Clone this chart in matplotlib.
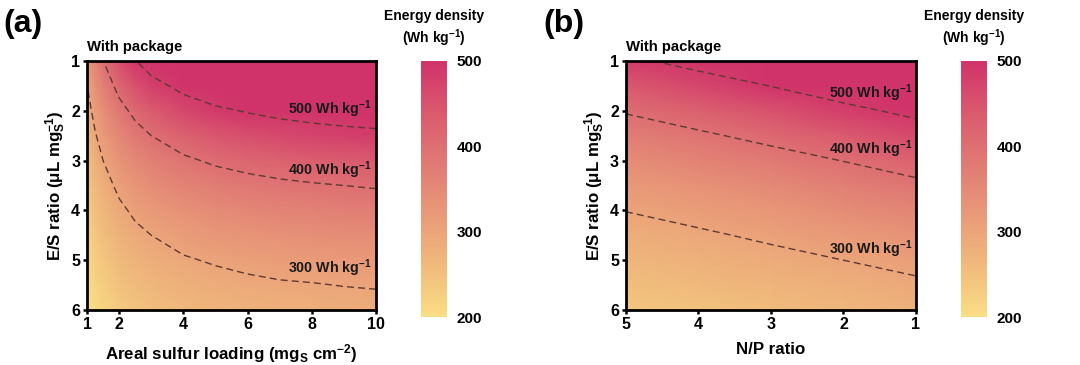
import matplotlib.pyplot as plt
import numpy as np
from matplotlib.colors import LinearSegmentedColormap, Normalize
from matplotlib.cm import ScalarMappable

plt.rcParams['font.family'] = ['Liberation Sans', 'DejaVu Sans']
plt.rcParams['font.weight'] = 'bold'
plt.rcParams['mathtext.fontset'] = 'custom'
plt.rcParams['mathtext.rm'] = 'Liberation Sans:bold'
plt.rcParams['mathtext.it'] = 'Liberation Sans:bold'
plt.rcParams['mathtext.bf'] = 'Liberation Sans:bold'

# grid nodes
es_ratio = [1.0, 1.5, 2.0, 2.5, 3.0, 3.5, 4.0, 4.5, 5.0, 5.5, 6.0]   # uL mgS-1
loading = [1, 1.25, 1.5, 2, 2.5, 3, 4, 5, 6, 7, 8, 9, 10]            # mgS cm-2
np_ratio = [1, 2, 3, 4, 5]

# (a) energy density (Wh/kg), rows = E/S ratio, cols = sulfur loading
energy_a = np.array([
    [319, 362, 399, 455, 498, 531, 579, 613, 637, 656, 671, 683, 692],
    [299, 337, 368, 416, 452, 479, 517, 544, 563, 578, 589, 598, 606],
    [282, 315, 342, 383, 413, 436, 467, 489, 504, 516, 525, 532, 538],
    [266, 296, 320, 355, 381, 400, 426, 444, 457, 466, 474, 480, 485],
    [252, 279, 300, 331, 353, 369, 392, 407, 417, 425, 431, 436, 440],
    [240, 264, 282, 310, 329, 343, 362, 375, 384, 391, 396, 400, 404],
    [229, 250, 267, 291, 308, 320, 337, 348, 356, 362, 366, 370, 373],
    [218, 238, 253, 275, 290, 300, 315, 325, 332, 337, 340, 344, 346],
    [209, 227, 240, 260, 273, 283, 296, 304, 310, 315, 318, 321, 323],
    [200, 217, 229, 247, 259, 267, 279, 286, 292, 296, 298, 301, 303],
    [192, 207, 219, 235, 245, 253, 264, 270, 275, 279, 281, 283, 285]])

# (b) energy density (Wh/kg), rows = E/S ratio, cols = N/P ratio
energy_b = np.array([
    [660, 606, 560, 521, 487],
    [580, 537, 501, 469, 441],
    [516, 483, 453, 427, 404],
    [466, 438, 414, 392, 372],
    [424, 401, 380, 362, 345],
    [389, 370, 352, 336, 322],
    [360, 343, 328, 314, 301],
    [334, 320, 307, 294, 283],
    [312, 300, 288, 277, 267],
    [293, 282, 272, 262, 253],
    [276, 266, 257, 248, 240]])

levels = [300, 400, 500]
level_labels = ['300 Wh kg$^{-1}$', '400 Wh kg$^{-1}$', '500 Wh kg$^{-1}$']
label_y_a = [5.16, 3.19, 1.96]
label_y_b = [4.78, 2.77, 1.64]

cmap = LinearSegmentedColormap.from_list(
    'ed', ['#FADE84', '#F0BA7C', '#E99A78', '#E07A74', '#DA5A6E', '#D0336A'])
norm = Normalize(200, 500)

fig = plt.figure(figsize=(10.8, 3.65), dpi=100)

panels = [
    dict(pos=[0.0806, 0.1507, 0.2676, 0.6822], cpos=[0.3898, 0.1315, 0.0241, 0.7014],
         x=loading, z=energy_a, xlim=(1, 10), xticks=[1, 2, 4, 6, 8, 10],
         xlabel='Areal sulfur loading (mg$_{\\rm S}$ cm$^{-2}$)', lab_x=9.85, lab_y=label_y_a,
         tag='(a)', tag_x=0.0),
    dict(pos=[0.5796, 0.1507, 0.2685, 0.6822], cpos=[0.8898, 0.1315, 0.0241, 0.7014],
         x=np_ratio, z=energy_b, xlim=(5, 1), xticks=[5, 4, 3, 2, 1],
         xlabel='N/P ratio', lab_x=1.05, lab_y=label_y_b,
         tag='(b)', tag_x=0.5),
]

for p in panels:
    ax = fig.add_axes(p['pos'])
    X, Y = np.meshgrid(p['x'], es_ratio)
    ax.pcolormesh(X, Y, np.clip(p['z'], 200, 500), cmap=cmap, norm=norm, shading='gouraud')
    ax.contour(X, Y, p['z'], levels=levels, colors='#5e3a33', linewidths=1.0,
               linestyles=[(0, (5, 3))])
    for lv, ly in zip(level_labels, p['lab_y']):
        ax.text(p['lab_x'], ly, lv, ha='right', va='center', fontsize=10.3,
                fontweight='bold', color='#1a1a1a')
    ax.set_xlim(*p['xlim'])
    ax.set_ylim(6, 1)
    ax.set_xticks(p['xticks'])
    ax.set_yticks([1, 2, 3, 4, 5, 6])
    for s in ax.spines.values():
        s.set_linewidth(2)
    ax.tick_params(direction='out', width=1.8, length=3, labelsize=11.5, pad=2)
    ax.set_xlabel(p['xlabel'], fontsize=12.2, fontweight='bold', labelpad=7)
    ax.set_ylabel('E/S ratio (μL mg$_{\\rm S}^{-1}$)', fontsize=12.2, fontweight='bold', labelpad=2)
    ax.text(0.0, 1.03, 'With package', transform=ax.transAxes, ha='left', va='bottom',
            fontsize=10.7, fontweight='bold')
    fig.text(p['tag_x'] + 0.003, 0.935, p['tag'], fontsize=23, fontweight='bold',
             ha='left', va='center')

    cax = fig.add_axes(p['cpos'])
    cb = fig.colorbar(ScalarMappable(norm=norm, cmap=cmap), cax=cax)
    cb.outline.set_visible(False)
    cb.set_ticks([200, 300, 400, 500])
    cax.tick_params(length=0, labelsize=11, pad=7)
    cax.text(0.5, 1.045, 'Energy density\n(Wh kg$^{-1}$)', transform=cax.transAxes,
             ha='center', va='bottom', fontsize=10, fontweight='bold', linespacing=1.3)

fig.savefig('out.png', dpi=100)
